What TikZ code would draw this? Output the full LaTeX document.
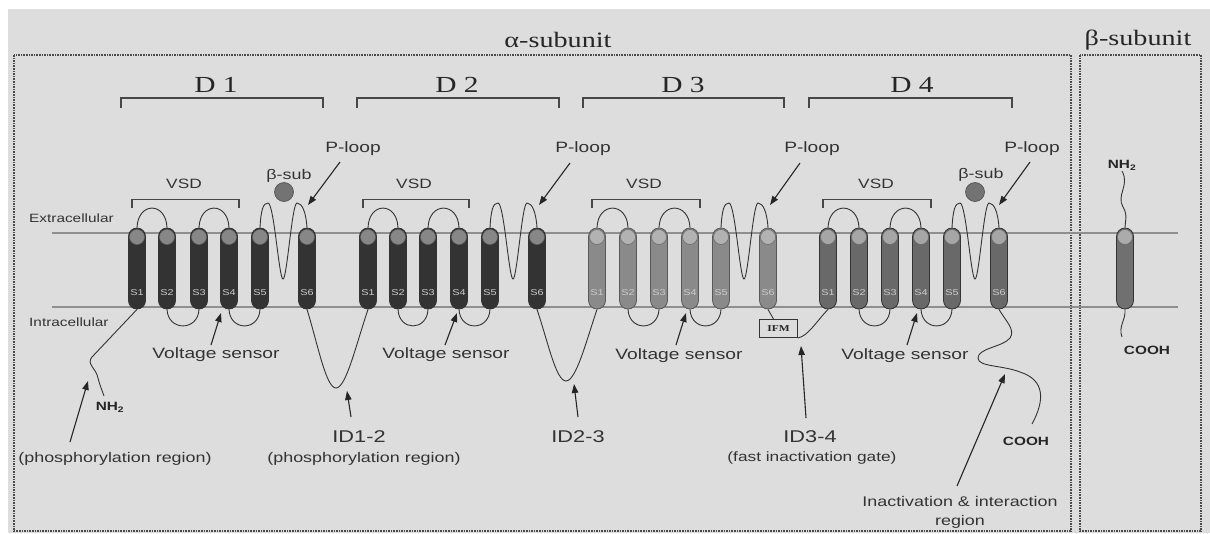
\documentclass[tikz,border=0pt]{standalone}
\usepackage{fontspec}
\usetikzlibrary{arrows.meta}
\newfontfamily\labfont{Liberation Sans}[FakeStretch=1.28]
\newfontfamily\headfont{Liberation Serif}[FakeStretch=1.28]
\definecolor{panel}{gray}{0.865}
\definecolor{ink}{gray}{0.2}
\definecolor{membgray}{gray}{0.56}
\newcommand{\fs}[1]{\fontsize{#1}{#1}\selectfont}

\begin{document}
\begin{tikzpicture}[
  x=1pt, y=-1pt,
  helix/.style 2 args={rectangle,rounded corners=8.5pt,minimum width=17pt,minimum height=81pt,inner sep=0pt,
    text height=67pt,text depth=14pt,fill=#1,draw=black!80,line width=0.8pt,font=\labfont\fs{8.5},text=white!80!black,
    path picture={\filldraw[fill=#2,draw=black!60,line width=0.5pt] ([yshift=-9pt]path picture bounding box.north) circle (7.5pt);}},
  dark/.style={helix={black!80}{black!47}},
  light/.style={helix={black!46}{black!30},draw=black!65},
  mid/.style={helix={black!59}{black!35}},
  linker/.style={line width=0.9pt,black!80},
  arr/.style={-{Triangle[length=9pt,width=6.5pt]},line width=1.1pt,black!85},
  brk/.style={line width=1.4pt,black!72},
  subframe/.style={draw=black!70,line width=1.2pt,dash pattern=on 1.6pt off 1pt},
  membrane/.style={line width=1.8pt,membgray},
  lbl/.style={font=\labfont\fs{15},text=ink,inner sep=1pt},
  note/.style={font=\labfont\fontsize{14}{19}\selectfont,text=ink,inner sep=1pt,align=center},
  side/.style={font=\labfont\fs{12},text=ink,inner sep=1pt,anchor=west},
  term/.style={font=\labfont\bfseries\fs{12},text=black!85,inner sep=1pt},
  dname/.style={font=\headfont\fs{23},text=black!85},
  bsub/.style={circle,fill=black!55,draw=black!70,line width=0.6pt,minimum size=19pt,inner sep=0pt}
]
\useasboundingbox (0,0) rectangle (1210,533);
\fill[white] (0,0) rectangle (1210,533);
\fill[panel] (8,9) rectangle (1210,533);

% subunit frames
\draw[subframe] (14,55) rectangle (1071,531);
\draw[subframe] (1080,55) rectangle (1201,531);
\node[font=\headfont\fs{22},text=black!85] (alpha) at (558,40) {α-subunit};
\node[font=\headfont\fs{22},text=black!85] (beta) at (1138,40) {β-subunit};

% membrane
\draw[membrane] (52,233) -- (1178,233);
\draw[membrane] (52,307) -- (1178,307);
\node[side] (extra) at (28,218) {Extracellular};
\node[side] (intra) at (28,322) {Intracellular};

% domains
\draw[brk] (121,108) -- (121,98) -- (323,98) -- (323,108);
\draw[brk] (357,108) -- (357,98) -- (559,98) -- (559,108);
\draw[brk] (583,108) -- (583,98) -- (784,98) -- (784,108);
\draw[brk] (809,108) -- (809,98) -- (1012,98) -- (1012,108);
\node[dname] (dom1) at (216,85) {D 1};
\node[dname] (dom2) at (457,85) {D 2};
\node[dname] (dom3) at (683,85) {D 3};
\node[dname] (dom4) at (912,85) {D 4};

% helices
\node[dark] (d1s1) at (137,268.5) {S1};
\node[dark] (d1s2) at (167,268.5) {S2};
\node[dark] (d1s3) at (199,268.5) {S3};
\node[dark] (d1s4) at (229,268.5) {S4};
\node[dark] (d1s5) at (260,268.5) {S5};
\node[dark] (d1s6) at (307,268.5) {S6};
\node[dark] (d2s1) at (368,268.5) {S1};
\node[dark] (d2s2) at (398,268.5) {S2};
\node[dark] (d2s3) at (428,268.5) {S3};
\node[dark] (d2s4) at (459,268.5) {S4};
\node[dark] (d2s5) at (490,268.5) {S5};
\node[dark] (d2s6) at (537,268.5) {S6};
\node[light] (d3s1) at (597,268.5) {S1};
\node[light] (d3s2) at (628,268.5) {S2};
\node[light] (d3s3) at (659,268.5) {S3};
\node[light] (d3s4) at (690,268.5) {S4};
\node[light] (d3s5) at (721,268.5) {S5};
\node[light] (d3s6) at (768,268.5) {S6};
\node[mid] (d4s1) at (828,268.5) {S1};
\node[mid] (d4s2) at (859,268.5) {S2};
\node[mid] (d4s3) at (890,268.5) {S3};
\node[mid] (d4s4) at (921,268.5) {S4};
\node[mid] (d4s5) at (952,268.5) {S5};
\node[mid] (d4s6) at (999,268.5) {S6};
\node[helix={black!56}{black!33}] (bhx) at (1125,268.5) {};

% S1-S5 loops
\draw[linker] (d1s1.north) .. controls +(1,-26) and +(-1,-26) .. (d1s2.north)
  (d1s2.south) .. controls +(1,22) and +(-1,22) .. (d1s3.south)
  (d1s3.north) .. controls +(1,-26) and +(-1,-26) .. (d1s4.north)
  (d1s4.south) .. controls +(1,22) and +(-1,22) .. (d1s5.south);
\draw[linker] (d2s1.north) .. controls +(1,-26) and +(-1,-26) .. (d2s2.north)
  (d2s2.south) .. controls +(1,22) and +(-1,22) .. (d2s3.south)
  (d2s3.north) .. controls +(1,-26) and +(-1,-26) .. (d2s4.north)
  (d2s4.south) .. controls +(1,22) and +(-1,22) .. (d2s5.south);
\draw[linker] (d3s1.north) .. controls +(1,-26) and +(-1,-26) .. (d3s2.north)
  (d3s2.south) .. controls +(1,22) and +(-1,22) .. (d3s3.south)
  (d3s3.north) .. controls +(1,-26) and +(-1,-26) .. (d3s4.north)
  (d3s4.south) .. controls +(1,22) and +(-1,22) .. (d3s5.south);
\draw[linker] (d4s1.north) .. controls +(1,-26) and +(-1,-26) .. (d4s2.north)
  (d4s2.south) .. controls +(1,22) and +(-1,22) .. (d4s3.south)
  (d4s3.north) .. controls +(1,-26) and +(-1,-26) .. (d4s4.north)
  (d4s4.south) .. controls +(1,22) and +(-1,22) .. (d4s5.south);

% pore loops
\draw[linker] (d1s5.north) .. controls (261,210) and (263,203) .. (268,203) .. controls (274,203) and (279,279) .. (283,279)
  .. controls (287,279) and (292,203) .. (297,203) .. controls (302,203) and (306,212) .. (d1s6.north);
\draw[linker] (d2s5.north) .. controls (491,210) and (493,203) .. (498,203) .. controls (504,203) and (509,279) .. (513,279)
  .. controls (517,279) and (522,203) .. (527,203) .. controls (532,203) and (536,212) .. (d2s6.north);
\draw[linker] (d3s5.north) .. controls (722,210) and (724,203) .. (729,203) .. controls (735,203) and (740,279) .. (744,279)
  .. controls (748,279) and (753,203) .. (758,203) .. controls (763,203) and (767,212) .. (d3s6.north);
\draw[linker] (d4s5.north) .. controls (953,210) and (955,203) .. (960,203) .. controls (966,203) and (971,279) .. (975,279)
  .. controls (979,279) and (984,203) .. (989,203) .. controls (994,203) and (998,212) .. (d4s6.north);

% VSD brackets
\draw[brk] ([xshift=-5pt,yshift=20pt]d1s1.north) -- ++(0,-8) -| ([xshift=10pt,yshift=20pt]d1s4.north);
\draw[brk] ([xshift=-5pt,yshift=20pt]d2s1.north) -- ++(0,-8) -| ([xshift=10pt,yshift=20pt]d2s4.north);
\draw[brk] ([xshift=-5pt,yshift=20pt]d3s1.north) -- ++(0,-8) -| ([xshift=10pt,yshift=20pt]d3s4.north);
\draw[brk] ([xshift=-5pt,yshift=20pt]d4s1.north) -- ++(0,-8) -| ([xshift=10pt,yshift=20pt]d4s4.north);
\node[lbl,font=\labfont\fs{13.5}] (vsd1) at (184,184) {VSD};
\node[lbl,font=\labfont\fs{13.5}] (vsd2) at (414,184) {VSD};
\node[lbl,font=\labfont\fs{13.5}] (vsd3) at (644,184) {VSD};
\node[lbl,font=\labfont\fs{13.5}] (vsd4) at (876,184) {VSD};

% beta-subunit contacts
\node[bsub] (bs1) at (284,192) {};
\node[bsub] (bs4) at (975,192) {};
\node[lbl,font=\labfont\fs{14}] (bs1txt) at (289,176) {β-sub};
\node[lbl,font=\labfont\fs{14}] (bs4txt) at (981,175) {β-sub};

% P-loop pointers
\node[lbl] (pl1txt) at (353,149) {P-loop};
\node[lbl] (pl2txt) at (583,149) {P-loop};
\node[lbl] (pl3txt) at (812,149) {P-loop};
\node[lbl] (pl4txt) at (1032,149) {P-loop};
\coordinate (pl1a) at (340,162); \coordinate (pl1b) at (308,205);
\coordinate (pl2a) at (570,163); \coordinate (pl2b) at (539,205);
\coordinate (pl3a) at (800,163); \coordinate (pl3b) at (770,205);
\coordinate (pl4a) at (1030,162); \coordinate (pl4b) at (999,205);
\draw[arr] (pl1a) -- (pl1b);
\draw[arr] (pl2a) -- (pl2b);
\draw[arr] (pl3a) -- (pl3b);
\draw[arr] (pl4a) -- (pl4b);

% voltage sensors
\node[lbl] (vs1) at (216,355) {Voltage sensor};
\node[lbl] (vs2) at (446,355) {Voltage sensor};
\node[lbl] (vs3) at (679,356) {Voltage sensor};
\node[lbl] (vs4) at (905,356) {Voltage sensor};
\coordinate (vs1a) at (211,345); \coordinate (vs1b) at (221,313);
\coordinate (vs2a) at (445,345); \coordinate (vs2b) at (457,313);
\coordinate (vs3a) at (676,345); \coordinate (vs3b) at (686,313);
\coordinate (vs4a) at (907,345); \coordinate (vs4b) at (917,313);
\draw[arr] (vs1a) -- (vs1b);
\draw[arr] (vs2a) -- (vs2b);
\draw[arr] (vs3a) -- (vs3b);
\draw[arr] (vs4a) -- (vs4b);

% N-terminus
\draw[linker] (d1s1.south) -- (92,357) .. controls (86,364) and (96,368) .. (98,378) .. controls (100,386) and (102,390) .. (104,396);
\node[term] (nh2) at (110,407) {NH\textsubscript{2}};
\node[note] (nreg) at (115,459) {(phosphorylation region)};
\coordinate (na) at (70,442); \coordinate (nb) at (88,381);
\draw[arr] (na) -- (nb);

% inter-domain linkers
\draw[linker] (d1s6.south) .. controls (318,345) and (326,388) .. (336,388) .. controls (346,388) and (356,345) .. (d2s1.south);
\draw[linker] (d2s6.south) .. controls (548,342) and (556,381) .. (566,381) .. controls (576,381) and (586,342) .. (d3s1.south);
\node[draw=black!80,line width=0.9pt,minimum width=38pt,minimum height=18pt,inner sep=0pt,font=\headfont\bfseries\fs{9},text=black!85] (ifm) at (778.5,328.5) {IFM};
\draw[linker] (d3s6.south) -- ([xshift=-5pt]ifm.north);
\draw[linker] (ifm.south east) .. controls (808,336) and (816,322) .. (d4s1.south);

\node[lbl,font=\labfont\fs{17}] (id12) at (359,437) {ID1-2};
\node[note] (id12n) at (364,459) {(phosphorylation region)};
\node[lbl,font=\labfont\fs{17}] (id23) at (578,437) {ID2-3};
\node[lbl,font=\labfont\fs{17}] (id34) at (810,437) {ID3-4};
\node[note,font=\labfont\fs{13.5}] (id34n) at (812,458) {(fast inactivation gate)};
\coordinate (id12a) at (351,417); \coordinate (id12b) at (347,391);
\coordinate (id23a) at (578,417); \coordinate (id23b) at (574,384);
\coordinate (id34a) at (806,418); \coordinate (id34b) at (801,346);
\draw[arr] (id12a) -- (id12b);
\draw[arr] (id23a) -- (id23b);
\draw[arr] (id34a) -- (id34b);

% C-terminus
\draw[linker] (d4s6.south) .. controls (1005,320) and (1016,330) .. (1010,338) .. controls (1003,347) and (978,348) .. (978,358)
  .. controls (978,367) and (1002,365) .. (1020,372) .. controls (1045,380) and (1045,400) .. (1032,424);
\node[term] (cooh) at (1026,441) {COOH};
\node[note] (inact) at (960,512) {Inactivation \& interaction\\region};
\coordinate (ca) at (957,486); \coordinate (cb) at (1005,374);
\draw[arr] (ca) -- (cb);

% beta-subunit
\node[term] (bnh2) at (1122,165) {NH\textsubscript{2}};
\node[term] (bcooh) at (1147,350) {COOH};
\draw[linker] (bnh2.south) .. controls (1130,185) and (1116,195) .. (1123,207) .. controls (1128,215) and (1125,222) .. (bhx.north);
\draw[linker] (bhx.south) .. controls (1126,320) and (1118,326) .. (1122,337);

\end{tikzpicture}
\end{document}
